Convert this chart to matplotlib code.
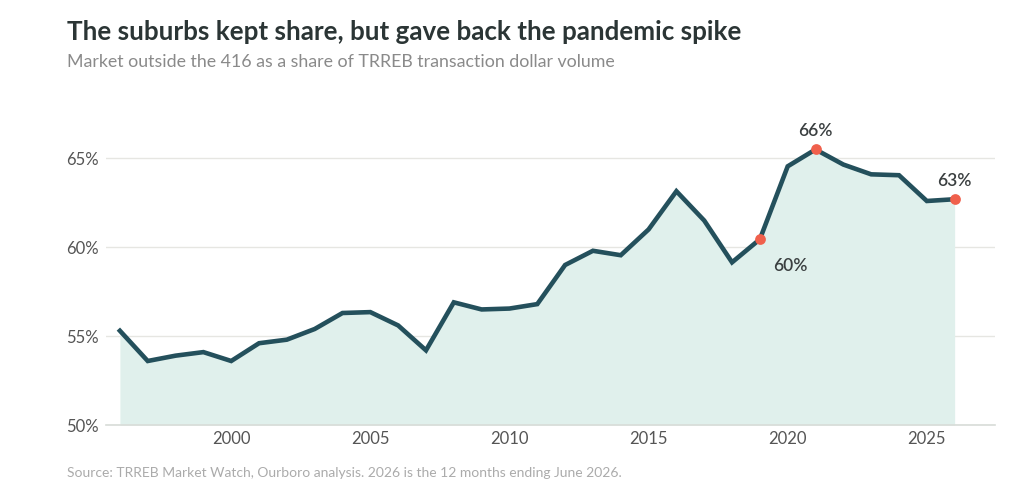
import matplotlib
matplotlib.use('Agg')
import matplotlib.pyplot as plt
from matplotlib.ticker import FuncFormatter

years = list(range(1996, 2027))
share = [55.3, 53.6, 53.9, 54.1, 53.6, 54.6, 54.8, 55.4, 56.3, 56.35,
         55.6, 54.2, 56.9, 56.5, 56.55, 56.8, 59.0, 59.8, 59.55, 61.0,
         63.15, 61.5, 59.15, 60.45, 64.55, 65.5, 64.65, 64.1, 64.05, 62.6,
         62.7]
highlight_years = [2019, 2021, 2026]
highlight_labels = ['60%', '66%', '63%']

line_col = '#24505c'
fill_col = '#e0f0ec'
dot_col = '#f0604c'
text_dark = '#2b3535'

plt.rcParams['font.family'] = ['Lato', 'DejaVu Sans']

fig = plt.figure(figsize=(10.24, 4.92), dpi=100)
ax = fig.add_axes([106 / 1024, 1 - 425 / 492, (995 - 106) / 1024, (425 - 105) / 492])

ax.fill_between(years, share, 50, color=fill_col, lw=0, zorder=1)
ax.plot(years, share, color=line_col, lw=3.3, solid_joinstyle='miter', zorder=3)

hx = [y for y in highlight_years]
hy = [share[years.index(y)] for y in highlight_years]
ax.scatter(hx, hy, s=60, color=dot_col, zorder=4, lw=0)

offsets = {2019: (22, -19), 2021: (0, 13), 2026: (0, 13)}
for x, y, lab in zip(hx, hy, highlight_labels):
    dx, dy = offsets[x]
    ax.annotate(lab, (x, y), xytext=(dx, dy), textcoords='offset points',
                ha='center', va='center', fontsize=12.5, color='#3a3f40',
                fontweight='semibold')

ax.set_xlim(1995.5, 2027.45)
ax.set_ylim(50, 68)
ax.set_yticks([50, 55, 60, 65])
ax.yaxis.set_major_formatter(FuncFormatter(lambda v, p: f'{v:.0f}%'))
ax.set_xticks([2000, 2005, 2010, 2015, 2020, 2025])
ax.tick_params(length=0, labelsize=12, labelcolor='#555555')
ax.tick_params(axis='y', pad=5)
ax.tick_params(axis='x', pad=4)
ax.grid(axis='y', color='#e6e6e2', lw=1, zorder=0)
ax.set_axisbelow(True)
for s in ['top', 'right', 'left']:
    ax.spines[s].set_visible(False)
ax.spines['bottom'].set_color('#d8dcd8')
ax.spines['bottom'].set_linewidth(1.2)

fig.text(67 / 1024, 1 - 32 / 492, 'The suburbs kept share, but gave back the pandemic spike',
         fontsize=18.7, fontweight='bold', color=text_dark, va='center')
fig.text(67 / 1024, 1 - 62 / 492, 'Market outside the 416 as a share of TRREB transaction dollar volume',
         fontsize=12.8, color='#8a8a8a', va='center')
fig.text(67 / 1024, 1 - 473 / 492,
         'Source: TRREB Market Watch, Ourboro analysis. 2026 is the 12 months ending June 2026.',
         fontsize=10, color='#ababab', va='center')

fig.savefig('out.png', dpi=100, facecolor='white')
